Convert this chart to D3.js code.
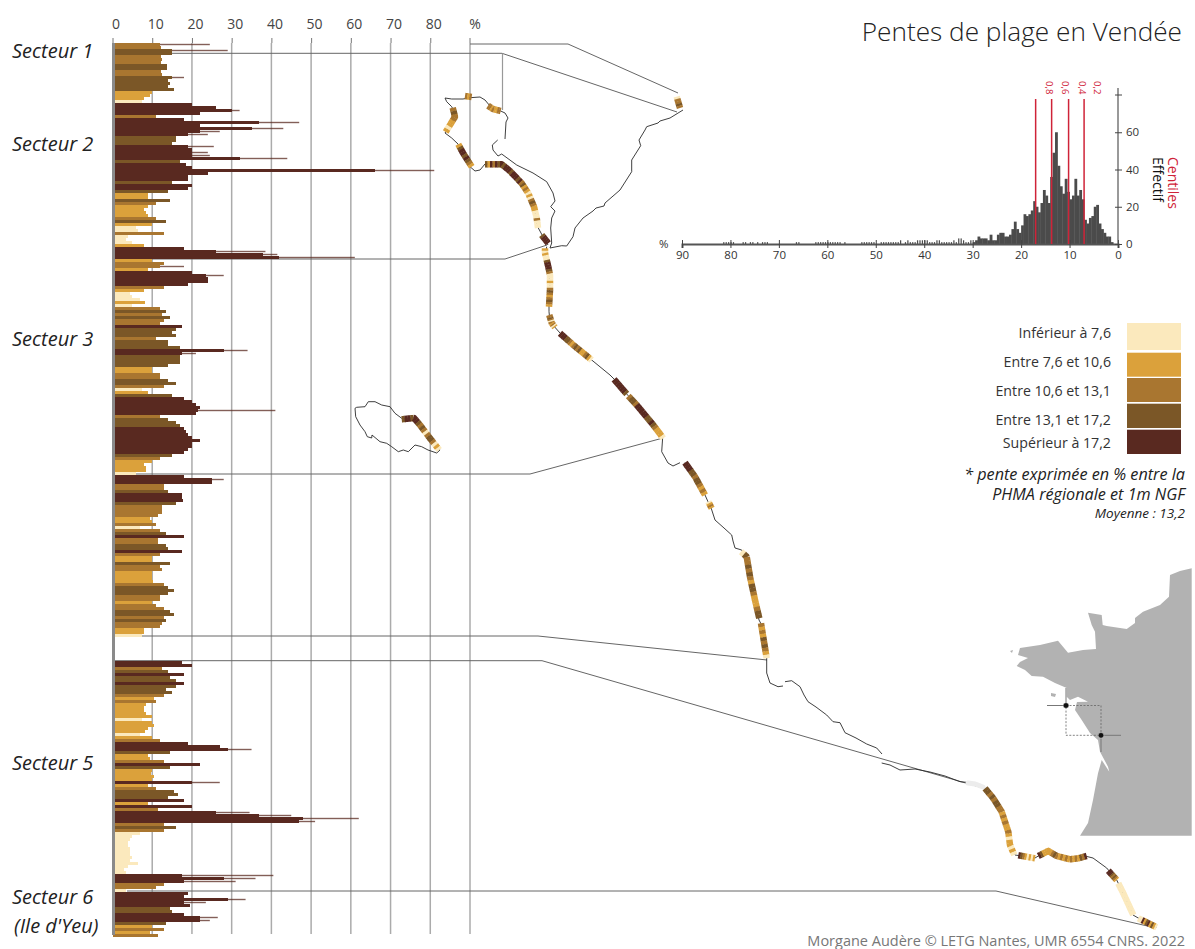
<!DOCTYPE html>
<html><head><meta charset="utf-8">
<script src="https://d3js.org/d3.v7.min.js"></script>
<style>html,body{margin:0;padding:0;background:#fff}svg{display:block}text{font-family:"Open Sans",sans-serif}</style>
</head><body><svg id="c" width="1195" height="949"></svg>
<script>
// ---- Bar profile: slope (%) per shoreline profile, top to bottom (0 = no data, sector 4)
const slopes = [
12,12.3,15,15,12.3,12.5,12.3,13.6,13.6,12.2,12.5,15,14,14.5,14,15.5,10,9.5,8,7.5,
20,26,30,22,11,18,37,22,35,22,19,16,16,15,19,20,20,20,32,17,18.5,20,66,24,19,19,15,20,19,14,
9,9,14.5,11,9,8,8.5,9,11,13.5,10,6,6.5,13,4,3.5,5,8,18,26,38,42,
10,13,12,9,20,23.5,24,24,19,13,8,4.5,5,7,8.3,5,12,13.5,12.5,14.5,13,12,17.5,16,15,16,11,14,14,17,
28,17.5,17,17,17,14,10,10,12,12,14,16,13,7.5,9,15,18,20,21,22,21.5,21,12,14,16,17,18,18.5,19,20,22,20,20,19,18,15,12,10,8,8.5,8.5,6,
18,25,25,13,13,14,17.5,17.5,17.7,16,12.5,12.5,12.5,11.5,9.5,10,11,7,12,13.5,18,11.5,11.5,13.5,14,17.5,12,10,10,14.5,12,12.5,10,10,10,10.3,13,14,15.5,14,12,12,10,11,13,14.5,15.5,13,13.5,12.5,12,8,8,7.5,
0,0,0,0,0,0,0,0,
17.5,20,12.5,14,18,14.5,16,18,16,13.5,
15,13,10.5,11,8.5,8,8,8.5,10,7.5,10,10.5,9,8.3,7,10,12,19,27,29,14.5,9,9.5,13,22,14.5,10,9.8,10.5,10,20,9,11,15.5,16.5,14,18,9,20,11.5,26,37,48,47,13,16,13,7,
5,4.5,4,4,4.5,4.5,4.5,5,4.5,6.5,4,3,3.5,17.5,28,18,13,11,3.5,19,18,29,18,19.5,14.5,15,18,22,22,13.5,10,13,9.5,11.5
];
// thin lines that stick out past the bar: [row, slope %]
const spikes = [[0,24.5],[2,29],[11,18],[22,32],[26,47],[28,43],[29,27],[30,24],[34,25.5],[36,24],[37,24.5],[38,44],[42,81],[69,38.5],[70,41.5],[71,61],[74,18],[77,28],[102,34],[103,21],[122,41],[145,28],[235,35],[246,27],[256,34.5],[257,45],[258,62],[259,51],[277,40.5],[278,36],[279,31],[285,33.5],[286,23.5],[291,26.5],[292,24.5]];
const classBreaks = [7.6,10.6,13.1,17.2];
const classColors = ["#fbe9bd","#dba13b","#a97630","#7b5727","#592920"];
const classLabels = ["Inférieur à 7,6","Entre 7,6 et 10,6","Entre 10,6 et 13,1","Entre 13,1 et 17,2","Supérieur à 17,2"];
const profileTicks = [0,10,20,30,40,50,60,70,80];
const sectorNames = [["Secteur 1",58],["Secteur 2",151],["Secteur 3",346],["Secteur 5",770],["Secteur 6",904],["(Ile d'Yeu)",933]];

// ---- Histogram: number of profiles per 0.5 % bin, from 0 %
const histCounts = [0,0,1,4,4,6,8,11,21,20,15,14,11,13,24,29,26,35,26,24,28,35,27,31,42,60,49,36,22,26,29,22,17,20,23,18,16,15,16,10,6,8,12,8,5,4,4,6,6,5,2,2,5,2,3,3,3,4,2,1,
2,1,1,2,3,3,1,2,1,1,1,1,1,2,2,1,1,1,2,2,2,2,2,1,1,1,2,1,0,2,1,1,1,1,1,1,1,1,0,0,1,1,1,1,1,1,0,0,0,0,0,0,1,0,1,1,1,1,1,1,1,1,1,1,1,0,0,0,0,0,0,1,1,0,0,0,0,0,0,0,0,0,0,0,1,1,1,0,1,0,1,1,0,1,1,0,0,0,1,1,1,1,1,0,0,0,0,0,0,0,0,0,0,0,0,0,0,0,0,0];
const histPctTicks = [0,10,20,30,40,50,60,70,80,90];
const histCountTicks = [0,20,40,60];
const centiles = [[17,"0,8"],[13.7,"0,6"],[10.2,"0,4"],[7,"0,2"]];

// ---- Map geometry (map units)
const coastNorth = [[505,139],[506,122],[508,118],[505,113],[500.7,111],[491.7,108],[485,100],[480,97],[470,97.7],[463,99],[451.7,99],[445,98],[446.7,101.7],[451.7,106.7],[455,113],[451.7,123],[445,133],[451.7,138],[458,144],[463,153],[470,166.7],[475,171],[480,170],[485,164],[501.7,164],[510,170],[521.7,183],[530,196.7],[535,211.7],[536.7,225],[543,236.7],[548,245]];
const coastBay = [[497.7,140],[492.3,145],[493,150],[498,156],[501.7,154],[516.7,165],[533,173],[546.7,181.7],[553,193],[555,201],[550.7,206.7],[555,211],[551.7,218],[550.7,228],[551.7,243],[550,248],[561.7,245.7],[566.7,246],[573,236.7],[575,228],[583,218],[593,211],[596,208],[604,206],[605,203],[620,190],[631.7,171.7],[631.7,160],[640.7,145.7],[639,140],[645,130],[646.7,126.7],[658,123],[660,121],[670,118],[683,110]];
const coastMiddle = [[546.7,246.7],[545,256.7],[548,270],[550,283],[549,300],[549,311.7],[550,321.7],[560,333],[575,346.7],[591.7,360],[610,375],[615,380],[626.7,394],[636.7,405],[653,425],[662.7,437],[661.7,451.7],[668,463],[673,466],[680,462.7]];
const coastSouth = [[685,462.7],[695,476.7],[705,495],[708,501.7],[710.7,506.7],[715,520],[724,528],[731.7,535],[733,541],[735,548],[741.7,550],[746.7,556.7],[750,576.7],[755,600],[759,620],[761.7,625],[766.7,656.7],[766.7,673],[770,683],[778,686.7],[783,686]];
const coastDunes = [[785,681.7],[791.7,680.7],[800,686.7],[804,695],[808,701.7],[816,707],[826.7,715],[833,721.7],[840,722.7],[845,732.7],[856,738],[866.7,744],[876.7,748],[882,754]];
const coastEstuary = [[881.7,763],[890,765],[900,770],[915,769],[930,772],[945,776],[960,781.7],[970,782.7],[983,788],[993,798],[1001.7,811.7],[1008,831.7],[1010,845],[1015,855],[1021.7,856],[1035,858],[1040,855],[1048,851],[1056.7,856],[1070,859],[1078,858],[1085,856],[1093,858],[1106.7,868],[1116.7,880],[1123,893],[1133,915],[1141.7,920],[1156.7,927]];
const islandYeu = [[355,408.3],[356.7,407.3],[365,406.7],[368.3,401.7],[375,401.7],[381.7,405],[390,406.7],[395,413.3],[401.7,418.3],[414,418],[420,425],[430,438],[440,450],[436.7,453],[428,450],[421.7,446.7],[415,445],[408.3,451.7],[403.3,450],[398.3,451.7],[391.7,446.7],[386.7,443.3],[380,441.7],[372,435],[371.7,438],[367.3,436.7],[365,431.7],[360,425],[355.7,416.7],[355,408.3]];
const coasts = [coastNorth,coastBay,coastMiddle,coastSouth,coastDunes,coastEstuary,islandYeu];

const stretches = [
 [[[676.7,96.7],[680,108]],"02232"],
 [[[465,96],[471.7,97]],"212"],
 [[[488,105.7],[493,109],[500.7,111]],"22121122"],
 [[[452.7,107.7],[455,116.7],[450,125],[445.7,132]],"23221101"],
 [[[458.3,144.3],[463,153],[471.7,166.7]],"134434321"],
 [[[485,164.3],[501.7,164.3],[510,171],[521.7,183.3],[528.3,193.3],[534,206.7],[536.7,218],[538,228]],"3142434344434443423121010232110002000"],
 [[[541.7,235],[548.3,243.3]],"34444"],
 [[[545,248.3],[545,253],[548.3,266.7],[550,275],[550,290],[549,306.7]],"1010034443200010023212321"],
 [[[549.3,315],[551.7,323],[555,327.3]],"2232021201"],
 [[[560,333.3],[573.3,345],[591.7,360]],"44433212323112310"],
 [[[614,379.3],[626.7,394]],"4444443"],
 [[[628.3,396],[636.7,405],[653.3,425],[663.3,438.3]],"233244444334321110"],
 [[[685,462.7],[695,476.7],[705,495]],"444332332121"],
 [[[708.3,501.7],[711.7,508.3]],"0121"],
 [[[741,551.7],[746.7,556.7],[750,576.7],[755,600],[759.3,618.3]],"032232321332111233"],
 [[[761,623.3],[766.7,658.3]],"2121323210"],
 [[[985,788.3],[993.3,798.3],[1001.7,811.7],[1008.3,831.7],[1010,845],[1014.3,855]],"33232332212121121011010"],
 [[[1018.3,855.3],[1035,858.3]],"43210101"],
 [[[1038.3,856],[1048.3,851],[1056.7,856],[1070,859.3],[1078.3,858.3],[1086.7,856]],"431111232121212121324"],
 [[[1108.3,870.7],[1116.7,880]],"44432321"],
 [[[1118.3,883.3],[1123.3,893.3],[1133.3,915]],"0000000"],
 [[[1138.3,918.3],[1156.7,927.3]],"0041341310"],
 [[[401.7,419.3],[414,418],[420,425],[430,438.3],[439.3,450]],"344344323202332010"]
];
const noDataStretch = [[968,783],[975,784],[983,787]];

// sector bounds: [bar-side y, bar-side left, bar-side right, map x, map y]
const leaders = [
 [44,470,568,678,93],
 [53.3,113,502,677,112],
 [259,113,505,547,245],
 [474,113,530,663,438],
 [636,113,538,767,660],
 [660.7,113,542,983,788],
 [891,127,996,1156,928]
];

const france = [[1191.7,568.3],[1180,571],[1170,575],[1169,596.7],[1160,605],[1143,611.7],[1135,618],[1135,623],[1126.7,629],[1106.7,626],[1102.7,625],[1101.7,615],[1088,612.7],[1091.7,625],[1095,631.7],[1096,649],[1083,650],[1068,652.7],[1058,640.7],[1040,645],[1020,648],[1018,655],[1028,658],[1020,662],[1016.7,666],[1025,670],[1031.7,676],[1043,676.7],[1055,683],[1066.7,688],[1066.7,696.7],[1070,700],[1078,696.7],[1088,701.7],[1077,702],[1075,710],[1081.7,720],[1090,733],[1098,740],[1100,751.7],[1108,766.7],[1109.3,771.7],[1101.7,760],[1098,773.3],[1093,800],[1088,823],[1080,835.7],[1191.7,835.7]];
const franceIslands = [[[1051,693],[1056,694],[1055,697],[1051,696]],[[1010,651],[1013,650],[1012,653]]];
const studyBox = [[1066,705.5],[1101,735.3]];

// ---- Drawing
const svg = d3.select("#c");
const x = d3.scaleLinear().domain([0,90]).range([112.5,470]);
const row = d3.scaleBand().domain(d3.range(slopes.length)).range([43,43+3*slopes.length]);
const cls = d3.scaleThreshold().domain(classBreaks).range(d3.range(5));
const mx = d3.scaleIdentity(), my = d3.scaleIdentity();
const line = d3.line().x(d=>mx(d[0])).y(d=>my(d[1]));

// grid
svg.append("g").selectAll("line").data([10,20,30,40,50,60,70,80,90]).join("line")
 .attr("x1",d=>x(d)).attr("x2",d=>x(d)).attr("y1",43).attr("y2",934)
 .attr("stroke","#ababab").attr("stroke-width",1.5);

// leaders
const lg = svg.append("g").attr("fill","none");
lg.selectAll("path").data(leaders).join("path")
 .attr("d",d=>line([[d[1],d[0]],[d[2],d[0]]])+"L"+mx(d[3])+","+my(d[4]))
 .attr("stroke","#666").attr("stroke-width",1);
lg.append("path").attr("d",line([[502.5,53.3],[502.5,110]])).attr("stroke","#999").attr("stroke-width",1.2);

// bars
svg.append("g").selectAll("rect").data(spikes).join("rect")
 .attr("x",x(0)).attr("y",d=>row(d[0])+row.bandwidth()/2-.7).attr("height",1.4)
 .attr("width",d=>x(d[1])-x(0)).attr("fill",classColors[4]).attr("fill-opacity",.75);
svg.append("g").selectAll("rect").data(slopes.map((v,i)=>({v,i})).filter(d=>d.v>0)).join("rect")
 .attr("x",x(0)).attr("y",d=>row(d.i)).attr("height",row.bandwidth())
 .attr("width",d=>x(d.v)-x(0)).attr("fill",d=>classColors[cls(d.v)]).attr("shape-rendering","crispEdges");
svg.append("rect").attr("x",112).attr("y",43).attr("width",3).attr("height",892).attr("fill","#8a8a8a");

// top axis
const topAxis = d3.axisTop(x).tickValues(profileTicks).tickSize(5).tickPadding(9).tickFormat(d3.format("d"));
const ta = svg.append("g").attr("transform","translate(0,43)").call(topAxis);
ta.select(".domain").remove();
ta.selectAll("line").attr("stroke","#777");
ta.selectAll("text").attr("font-size",14).attr("fill","#444").attr("dx",3);
svg.append("text").attr("x",x(90)+5).attr("y",29).attr("text-anchor","middle").attr("font-size",14).attr("fill","#444").text("%");
svg.append("line").attr("x1",x(90)).attr("x2",x(90)).attr("y1",38).attr("y2",43).attr("stroke","#777");

// sector labels
svg.append("g").selectAll("text").data(sectorNames).join("text")
 .attr("x",d=>d[0][0]==="("?14:12).attr("y",d=>d[1]).attr("font-size",20).attr("font-style","italic").attr("fill","#222").text(d=>d[0]);

// coasts
svg.append("g").attr("fill","none").selectAll("path").data(coasts).join("path")
 .attr("d",line).attr("stroke","#2a2a2a").attr("stroke-width",.9);

// coloured shoreline stretches
const sg = svg.append("g").attr("fill","none").attr("stroke-width",6.5);
sg.append("path").attr("d",line(noDataStretch)).attr("stroke","#ececec").attr("stroke-width",5).attr("stroke-linecap","round");
const probe = document.createElementNS("http://www.w3.org/2000/svg","path");
stretches.forEach(([pts,codes])=>{
  probe.setAttribute("d",line(pts));
  const L = probe.getTotalLength(), n = codes.length;
  for(let i=0;i<n;i++){
    const a=L*i/n, b=Math.min(L,L*(i+1)/n+.3), s=[];
    for(let k=0;k<=4;k++){const p=probe.getPointAtLength(a+(b-a)*k/4); s.push([p.x,p.y]);}
    sg.append("path").attr("d",line(s)).attr("stroke",classColors[+codes[i]]);
  }
});

// histogram
const hx = d3.scaleLinear().domain([0,90]).range([1118,682]);
const hy = d3.scaleLinear().domain([0,80]).range([244,95]);
svg.append("g").selectAll("rect").data(histCounts.map((c,i)=>({c,i})).filter(d=>d.c>0)).join("rect")
 .attr("x",d=>hx((d.i+1)*.5)).attr("width",d=>hx(d.i*.5)-hx((d.i+1)*.5)+(d.i>=60?-1.2:.4))
 .attr("y",d=>hy(d.c)).attr("height",d=>hy(0)-hy(d.c)).attr("fill","#4b4b4b");
const hb = d3.axisBottom(hx).tickValues(histPctTicks).tickSize(4).tickPadding(3).tickFormat(d3.format("d"));
const hbg = svg.append("g").attr("transform","translate(0,244)").call(hb);
hbg.select(".domain").attr("stroke","#555").attr("stroke-width",2);
hbg.selectAll(".tick line").attr("y1",-4).attr("stroke","#444");
hbg.selectAll("text").attr("font-size",11.5).attr("fill","#333");
const hl = d3.axisRight(hy).tickValues(histCountTicks).tickSize(4).tickPadding(4).tickFormat(d3.format("d"));
const hlg = svg.append("g").attr("transform","translate(1118,0)").call(hl);
hlg.select(".domain").attr("stroke","#555").attr("stroke-width",1.2).attr("d",`M0,88V244`);
hlg.selectAll(".tick line").attr("x1",-3).attr("stroke","#444");
hlg.selectAll("text").attr("font-size",11.5).attr("fill","#333");
svg.append("line").attr("x1",1115).attr("x2",1122).attr("y1",hy(80)).attr("y2",hy(80)).attr("stroke","#444");
svg.append("text").attr("x",659).attr("y",248).attr("font-size",11.5).attr("fill","#333").text("%");
svg.append("g").selectAll("line").data(centiles).join("line")
 .attr("x1",d=>hx(d[0])).attr("x2",d=>hx(d[0])).attr("y1",99).attr("y2",244)
 .attr("stroke","#cf2338").attr("stroke-width",1.5);
svg.append("g").selectAll("text").data(centiles).join("text")
 .attr("transform",d=>`translate(${hx(d[0])+10},81) rotate(90)`)
 .attr("font-size",9.5).attr("fill","#cf2338").text(d=>d[1]);
svg.append("text").attr("transform","translate(1153,157) rotate(90)").attr("font-size",14).attr("fill","#111").text("Effectif");
svg.append("text").attr("transform","translate(1168,157) rotate(90)").attr("font-size",14).attr("fill","#cf2338").text("Centiles");

// title
svg.append("text").attr("x",1182).attr("y",41).attr("text-anchor","end").attr("font-size",26.2).attr("font-weight",300).attr("fill","#222").text("Pentes de plage en Vendée");

// legend
const legendY = d3.scaleOrdinal().domain(d3.range(5)).range([323,352.7,378,403.7,429.7]);
const legendH = [27,24,24,24.3,24.3];
const legendTextY = [338,367,396,425,448];
svg.append("g").selectAll("rect").data(classColors).join("rect")
 .attr("x",1127).attr("width",54).attr("y",(d,i)=>legendY(i)).attr("height",(d,i)=>legendH[i]).attr("fill",d=>d);
svg.append("g").selectAll("text").data(classLabels).join("text")
 .attr("x",1111).attr("y",(d,i)=>legendTextY[i]).attr("text-anchor","end").attr("font-size",14.2).attr("fill","#333").text(d=>d);
const notes = [["* pente exprimée en % entre la",480,16.2],["PHMA régionale et 1m NGF",500,16.2],["Moyenne : 13,2",518,13.5]];
svg.append("g").selectAll("text").data(notes).join("text")
 .attr("x",1185).attr("y",d=>d[1]).attr("text-anchor","end").attr("font-style","italic").attr("font-size",d=>d[2]).attr("fill","#222").text(d=>d[0]);

// locator map
const mg = svg.append("g");
mg.append("path").attr("d",line(france)+"Z").attr("fill","#b2b2b2");
mg.selectAll(".isl").data(franceIslands).join("path").attr("class","isl").attr("d",d=>line(d)+"Z").attr("fill","#b2b2b2");
mg.append("rect").attr("x",studyBox[0][0]).attr("y",studyBox[0][1]).attr("width",studyBox[1][0]-studyBox[0][0]).attr("height",studyBox[1][1]-studyBox[0][1])
 .attr("fill","none").attr("stroke","#666").attr("stroke-width",.8).attr("stroke-dasharray","2,1.5");
const ticksLoc = [[[1047,705.5],[1066,705.5]],[[1066,688],[1066,705.5]],[[1101,735.3],[1121,735.3]],[[1101,735.3],[1101,752]]];
mg.selectAll(".tl").data(ticksLoc).join("path").attr("class","tl").attr("d",line).attr("stroke","#777").attr("stroke-width",1);
mg.selectAll("circle").data(studyBox).join("circle").attr("cx",d=>mx(d[0])).attr("cy",d=>my(d[1])).attr("r",2.8).attr("fill","#111").attr("stroke","#fff").attr("stroke-width",.4);

// source
svg.append("text").attr("x",1185).attr("y",946).attr("text-anchor","end").attr("font-size",14.5).attr("fill","#777").text("Morgane Audère © LETG Nantes, UMR 6554 CNRS. 2022");
</script></body></html>
